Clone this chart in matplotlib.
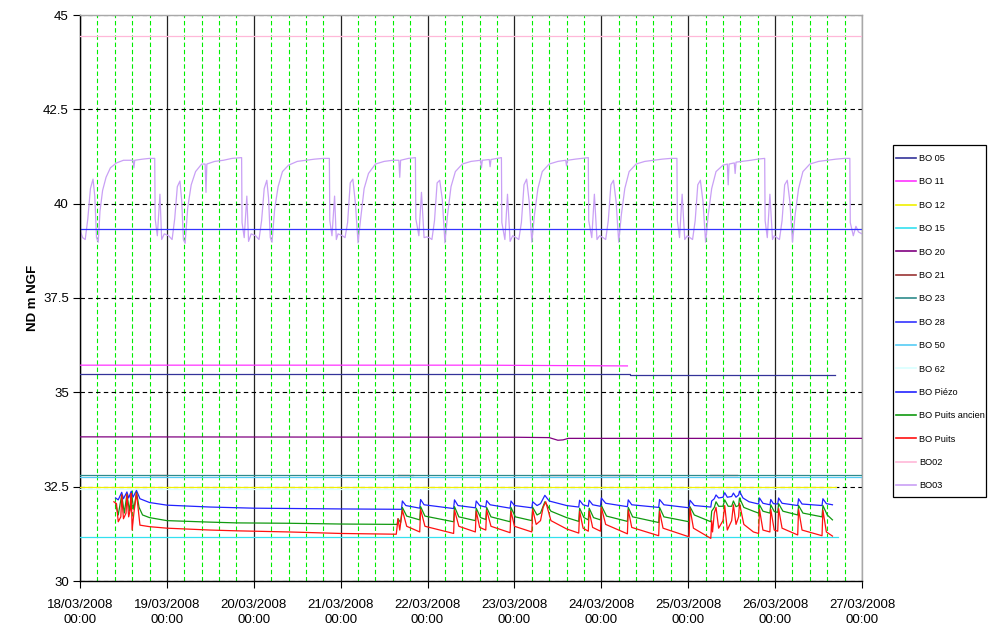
import matplotlib
matplotlib.use("Agg")
import matplotlib.pyplot as plt
from matplotlib.ticker import FixedLocator, MultipleLocator
from matplotlib.patches import Rectangle
import numpy as np

plt.rcParams['font.family'] = ['Liberation Sans', 'DejaVu Sans']

# ---------------- DATA (x = days since 18/03/2008 00:00) ----------------
x_tick_labels = ["18/03/2008\n00:00", "19/03/2008\n00:00", "20/03/2008\n00:00",
                 "21/03/2008\n00:00", "22/03/2008\n00:00", "23/03/2008\n00:00",
                 "24/03/2008\n00:00", "25/03/2008\n00:00", "26/03/2008\n00:00",
                 "27/03/2008\n00:00"]
y_ticks = [30, 32.5, 35, 37.5, 40, 42.5, 45]
y_tick_labels = ["30", "32.5", "35", "37.5", "40", "42.5", "45"]

bo05_t = [0.0, 6.33, 6.33, 8.69]
bo05_v = [35.48, 35.48, 35.45, 35.45]
bo11_t = [0.0, 4.6, 6.30]
bo11_v = [35.72, 35.72, 35.70]
bo12_t = [0.0, 8.70]
bo12_v = [32.49, 32.49]
bo15_t = [0.0, 8.72]
bo15_v = [31.16, 31.16]
bo20_t = [0.0, 5.0, 5.40, 5.50, 5.56, 5.62, 9.0]
bo20_v = [33.82, 33.81, 33.80, 33.73, 33.74, 33.78, 33.78]
bo21_t = [0.80, 1.00, np.nan, 3.66, 3.83, np.nan, 5.30, 5.80, np.nan, 6.00, 6.37, np.nan, 7.25, 7.56]
bo21_v = [32.82, 32.82, np.nan, 32.82, 32.82, np.nan, 32.82, 32.82, np.nan, 32.82, 32.82, np.nan, 32.82, 32.82]
bo23_t = [0.0, 9.0]
bo23_v = [32.81, 32.81]
bo28_t = [0.0, 9.0]
bo28_v = [39.33, 39.33]
bo50_t = [0.0, 9.0]
bo50_v = [32.75, 32.75]
bo62_t = [0.0, 8.70]
bo62_v = [32.44, 32.44]
bo02_t = [0.0, 9.0]
bo02_v = [44.45, 44.45]

piezo_t = [0.41, 0.44, 0.48, 0.50, 0.54, 0.56, 0.59, 0.61, 0.65, 0.69, 0.80, 1.0, 1.5, 2.0, 2.5, 3.0,
           3.70, 3.71, 3.75, 3.91, 3.92, 3.96, 4.30, 4.31, 4.35, 4.55, 4.56, 4.60, 4.67, 4.68, 4.72,
           4.95, 4.96, 5.00, 5.20, 5.21, 5.26, 5.30, 5.35, 5.40, 5.60, 5.74, 5.75, 5.79, 5.85, 5.86,
           5.90, 5.99, 6.00, 6.05, 6.30, 6.31, 6.35, 6.66, 6.67, 6.72, 7.01, 7.02, 7.07, 7.26, 7.27,
           7.30, 7.32, 7.35, 7.40, 7.42, 7.45, 7.50, 7.52, 7.55, 7.58, 7.59, 7.63, 7.70, 7.81, 7.82,
           7.86, 7.94, 7.95, 7.98, 8.03, 8.04, 8.08, 8.26, 8.27, 8.31, 8.54, 8.55, 8.59, 8.66]
piezo_v = [32.20, 32.15, 32.35, 32.18, 32.36, 32.20, 32.38, 32.22, 32.40, 32.18, 32.08, 32.01, 31.96, 31.93, 31.92, 31.91,
           31.90, 32.12, 32.00, 31.93, 32.16, 32.02, 31.92, 32.15, 32.00, 31.94, 32.12, 32.00, 31.96, 32.13, 32.02,
           31.93, 32.12, 32.00, 31.94, 32.10, 32.00, 32.05, 32.27, 32.12, 32.00, 31.96, 32.14, 32.02, 31.98, 32.14,
           32.02, 31.98, 32.20, 32.06, 31.97, 32.15, 32.02, 31.95, 32.16, 32.02, 31.94, 32.14, 32.00, 31.96, 32.12,
           32.18, 32.28, 32.20, 32.22, 32.34, 32.22, 32.24, 32.33, 32.22, 32.28, 32.38, 32.20, 32.10, 32.04, 32.20,
           32.06, 32.02, 32.16, 32.05, 32.04, 32.20, 32.06, 32.00, 32.18, 32.04, 32.00, 32.18, 32.05, 32.02]

ancien_t = [0.41, 0.44, 0.48, 0.51, 0.54, 0.57, 0.59, 0.62, 0.65, 0.68, 0.72, 0.80, 1.0, 1.5, 1.8, 2.4, 3.0,
            3.65, 3.66, 3.69, 3.71, 3.76, 3.91, 3.92, 3.97, 4.30, 4.31, 4.36, 4.55, 4.56, 4.61, 4.67, 4.68,
            4.73, 4.95, 4.96, 5.01, 5.20, 5.21, 5.26, 5.30, 5.35, 5.42, 5.60, 5.74, 5.75, 5.80, 5.85, 5.86,
            5.91, 5.99, 6.00, 6.06, 6.30, 6.31, 6.36, 6.66, 6.67, 6.72, 7.01, 7.02, 7.07, 7.26, 7.27, 7.30,
            7.32, 7.35, 7.40, 7.42, 7.46, 7.50, 7.52, 7.55, 7.58, 7.59, 7.64, 7.75, 7.81, 7.82, 7.86, 7.94,
            7.95, 7.99, 8.03, 8.04, 8.09, 8.26, 8.27, 8.32, 8.54, 8.55, 8.60, 8.66]
ancien_v = [32.05, 31.75, 32.28, 31.80, 32.30, 31.85, 32.32, 31.90, 32.35, 31.95, 31.75, 31.68, 31.60, 31.56, 31.54, 31.53, 31.51,
            31.50, 31.65, 31.55, 31.95, 31.72, 31.62, 31.97, 31.72, 31.57, 31.97, 31.70, 31.60, 31.93, 31.68, 31.63, 31.95,
            31.70, 31.57, 31.95, 31.70, 31.60, 31.95, 31.75, 31.80, 32.10, 31.85, 31.68, 31.58, 31.93, 31.68, 31.62, 31.93,
            31.68, 31.62, 32.00, 31.72, 31.58, 31.95, 31.70, 31.55, 31.95, 31.70, 31.57, 31.97, 31.75, 31.57, 31.85, 31.95,
            32.10, 31.98, 31.98, 32.15, 31.98, 31.98, 32.12, 31.97, 32.00, 32.20, 31.95, 31.85, 31.80, 32.02, 31.85, 31.80,
            32.02, 31.84, 31.82, 32.05, 31.85, 31.75, 32.00, 31.80, 31.70, 32.00, 31.75, 31.62]

puits_t = [0.39, 0.42, 0.44, 0.47, 0.48, 0.50, 0.53, 0.54, 0.56, 0.58, 0.59, 0.60, 0.62, 0.65, 0.69, 0.80, 1.0,
           1.5, 1.8, 2.4, 3.0, 3.64, 3.66, 3.68, 3.71, 3.76, 3.91, 3.92, 3.97, 4.30, 4.31, 4.36, 4.55, 4.56,
           4.60, 4.67, 4.68, 4.73, 4.95, 4.96, 5.00, 5.20, 5.21, 5.25, 5.30, 5.33, 5.36, 5.42, 5.60, 5.74,
           5.75, 5.79, 5.85, 5.86, 5.90, 5.99, 6.00, 6.05, 6.30, 6.31, 6.35, 6.66, 6.67, 6.71, 7.01, 7.02,
           7.06, 7.26, 7.27, 7.28, 7.30, 7.32, 7.35, 7.40, 7.42, 7.45, 7.50, 7.52, 7.55, 7.58, 7.59, 7.64,
           7.75, 7.81, 7.82, 7.86, 7.94, 7.95, 7.99, 8.03, 8.04, 8.08, 8.26, 8.27, 8.31, 8.54, 8.55, 8.59, 8.66]
puits_v = [32.10, 32.05, 31.57, 31.70, 32.28, 31.65, 31.80, 32.30, 31.70, 31.90, 32.32, 31.35, 31.80, 32.33, 31.48, 31.44, 31.40,
           31.35, 31.33, 31.30, 31.26, 31.24, 31.65, 31.35, 31.88, 31.45, 31.30, 31.90, 31.45, 31.26, 31.88, 31.45, 31.30, 31.85,
           31.42, 31.35, 31.88, 31.45, 31.28, 31.85, 31.45, 31.30, 31.90, 31.50, 31.60, 31.95, 32.10, 31.60, 31.38, 31.27,
           31.85, 31.40, 31.32, 31.85, 31.42, 31.32, 31.95, 31.50, 31.25, 31.88, 31.42, 31.20, 31.85, 31.40, 31.17, 31.93,
           31.40, 31.13, 31.60, 31.30, 31.80, 31.95, 31.40, 31.60, 32.00, 31.35, 31.60, 32.02, 31.50, 31.70, 32.06, 31.50,
           31.30, 31.26, 31.90, 31.35, 31.30, 31.90, 31.35, 31.32, 31.92, 31.40, 31.22, 31.90, 31.35, 31.20, 31.88, 31.30, 31.19]

bo03_t = [0.00, 0.03, 0.06, 0.09, 0.12, 0.15, 0.17, 0.19, 0.21, 0.23, 0.26, 0.30, 0.35, 0.42, 0.50, 0.61, 0.62, 0.63, 0.72, 0.80, 0.86, 0.865, 0.89, 0.92, 0.94, 0.97,
          1.02, 1.06, 1.09, 1.12, 1.15, 1.17, 1.19, 1.21, 1.24, 1.28, 1.33, 1.40, 1.44, 1.45, 1.46, 1.55, 1.65, 1.75, 1.86, 1.865, 1.89, 1.92, 1.94, 1.97,
          2.02, 2.06, 2.09, 2.12, 2.15, 2.17, 2.19, 2.21, 2.24, 2.28, 2.33, 2.40, 2.50, 2.60, 2.70, 2.80, 2.87, 2.875, 2.90, 2.93, 2.95, 2.97,
          3.02, 3.05, 3.08, 3.11, 3.14, 3.17, 3.20, 3.23, 3.27, 3.32, 3.40, 3.50, 3.60, 3.67, 3.68, 3.69, 3.78, 3.86, 3.865, 3.90, 3.93, 3.96, 3.99,
          4.02, 4.05, 4.08, 4.11, 4.14, 4.17, 4.20, 4.23, 4.27, 4.32, 4.40, 4.50, 4.61, 4.62, 4.63, 4.71, 4.72, 4.73, 4.80, 4.85, 4.855, 4.89, 4.92, 4.95, 4.98,
          5.02, 5.05, 5.08, 5.11, 5.14, 5.17, 5.20, 5.23, 5.27, 5.32, 5.40, 5.50, 5.59, 5.60, 5.61, 5.70, 5.78, 5.85, 5.855, 5.89, 5.92, 5.95, 5.98,
          6.02, 6.05, 6.08, 6.11, 6.14, 6.17, 6.20, 6.23, 6.27, 6.32, 6.40, 6.50, 6.60, 6.70, 6.80, 6.87, 6.875, 6.90, 6.93, 6.96, 6.99,
          7.02, 7.05, 7.08, 7.11, 7.14, 7.17, 7.20, 7.23, 7.27, 7.32, 7.40, 7.45, 7.46, 7.47, 7.53, 7.54, 7.55, 7.62, 7.72, 7.80, 7.88, 7.885, 7.91, 7.94, 7.97, 7.99,
          8.02, 8.05, 8.08, 8.11, 8.14, 8.17, 8.20, 8.23, 8.27, 8.32, 8.40, 8.50, 8.60, 8.70, 8.80, 8.86, 8.865, 8.90, 8.93, 8.96, 9.00]
bo03_v = [39.30, 39.10, 39.05, 39.60, 40.40, 40.65, 40.20, 39.10, 38.98, 39.80, 40.35, 40.70, 40.95, 41.08, 41.15, 41.15, 40.95, 41.15, 41.18, 41.20, 41.20, 39.60, 39.15, 40.25, 39.05, 39.20,
          39.15, 39.05, 39.60, 40.45, 40.60, 40.10, 39.05, 38.95, 39.90, 40.50, 40.85, 41.05, 41.05, 40.30, 41.05, 41.12, 41.15, 41.20, 41.22, 39.50, 39.10, 40.20, 39.00, 39.20,
          39.15, 39.05, 39.55, 40.40, 40.62, 40.15, 39.10, 38.98, 39.85, 40.45, 40.85, 41.02, 41.12, 41.15, 41.18, 41.20, 41.20, 39.55, 39.15, 40.20, 39.05, 39.20,
          39.15, 39.10, 39.50, 40.55, 40.65, 40.00, 38.96, 39.60, 40.40, 40.80, 41.05, 41.12, 41.15, 41.15, 40.70, 41.15, 41.20, 41.22, 39.60, 39.15, 40.30, 39.10, 39.12,
          39.10, 39.05, 39.55, 40.55, 40.62, 40.10, 38.96, 39.70, 40.45, 40.85, 41.05, 41.12, 41.15, 40.95, 41.15, 41.17, 40.98, 41.17, 41.20, 41.22, 39.50, 39.05, 40.25, 39.00, 39.15,
          39.10, 39.05, 39.50, 40.50, 40.65, 40.05, 38.98, 39.70, 40.40, 40.85, 41.05, 41.12, 41.15, 41.00, 41.15, 41.18, 41.20, 41.22, 39.55, 39.10, 40.25, 39.05, 39.15,
          39.10, 39.05, 39.55, 40.50, 40.62, 40.05, 38.98, 39.70, 40.40, 40.85, 41.05, 41.12, 41.15, 41.18, 41.20, 41.20, 39.55, 39.10, 40.25, 39.05, 39.15,
          39.10, 39.05, 39.55, 40.50, 40.62, 40.05, 38.98, 39.70, 40.40, 40.85, 41.02, 41.05, 40.50, 41.05, 41.08, 40.80, 41.10, 41.12, 41.15, 41.18, 41.20, 39.55, 39.10, 40.25, 39.05, 39.15,
          39.10, 39.05, 39.55, 40.50, 40.62, 40.05, 38.98, 39.70, 40.40, 40.85, 41.05, 41.12, 41.15, 41.18, 41.20, 41.20, 39.50, 39.15, 39.40, 39.25, 39.20]

series = [
    ("BO 05", bo05_t, bo05_v, "#333399"),
    ("BO 11", bo11_t, bo11_v, "#FF33FF"),
    ("BO 12", bo12_t, bo12_v, "#F0F000"),
    ("BO 15", bo15_t, bo15_v, "#33E0F0"),
    ("BO 20", bo20_t, bo20_v, "#800080"),
    ("BO 21", bo21_t, bo21_v, "#993333"),
    ("BO 23", bo23_t, bo23_v, "#2E8B8B"),
    ("BO 28", bo28_t, bo28_v, "#3333FF"),
    ("BO 50", bo50_t, bo50_v, "#55CCF5"),
    ("BO 62", bo62_t, bo62_v, "#D8FFFF"),
    ("BO Piézo", piezo_t, piezo_v, "#2222FF"),
    ("BO Puits ancien", ancien_t, ancien_v, "#119911"),
    ("BO Puits", puits_t, puits_v, "#FF1111"),
    ("BO02", bo02_t, bo02_v, "#FFB8D8"),
    ("BO03", bo03_t, bo03_v, "#C9A0F5"),
]
zorders = {"BO03": 2.0, "BO 28": 2.5}

# ---------------- FIGURE ----------------
W, H = 993, 628
fig = plt.figure(figsize=(W/100, H/100), dpi=100)
ax = fig.add_axes([80/W, 1-581/H, (862-80)/W, (581-15)/H])

handles = []
for name, t, v, c in series:
    ln, = ax.plot(t, v, color=c, lw=0.9, label=name, zorder=zorders.get(name, 3))
    handles.append(ln)

ax.set_xlim(0, 9)
ax.set_ylim(30, 45)
ax.xaxis.set_major_locator(FixedLocator(list(range(len(x_tick_labels)))))
ax.set_xticklabels(x_tick_labels, fontsize=9.5, linespacing=1.35)
ax.xaxis.set_minor_locator(MultipleLocator(0.2))
ax.yaxis.set_major_locator(FixedLocator(y_ticks))
ax.set_yticklabels(y_tick_labels, fontsize=9.5)

ax.tick_params(axis='both', which='major', direction='out', length=5, width=0.8, color='black')
ax.tick_params(axis='x', which='major', pad=8)
ax.tick_params(axis='y', which='major', pad=3)
ax.tick_params(axis='x', which='minor', length=0)

ax.grid(True, axis='x', which='major', color='#222222', lw=0.9, ls='-', zorder=0)
ax.grid(True, axis='x', which='minor', color='#00EE00', lw=0.8, ls=(0, (4, 2.5)), zorder=0)
ax.grid(True, axis='y', which='major', color='black', lw=0.8, ls=(0, (4, 3)), zorder=0)
ax.set_axisbelow(True)

for s in ['left', 'bottom']:
    ax.spines[s].set_color('black')
    ax.spines[s].set_linewidth(1.0)
for s in ['top', 'right']:
    ax.spines[s].set_color('#A8A8A8')
    ax.spines[s].set_linewidth(1.0)

ax.set_ylabel("ND m NGF", fontsize=9.5, fontweight='bold', labelpad=3)

# legend box frame (drawn separately for exact placement)
fig.patches.append(Rectangle((893/W, 1-497/H), (986-893)/W, (497-145)/H,
                             transform=fig.transFigure, facecolor='white',
                             edgecolor='black', lw=0.9, zorder=4))
leg = fig.legend(handles=handles, loc='upper left', bbox_to_anchor=(896/W, 1-154/H),
                 fontsize=6.6, frameon=False,
                 labelspacing=1.57, handlelength=2.2, handletextpad=0.3,
                 borderpad=0.0, borderaxespad=0.0)
leg.set_zorder(5)
for lh in leg.get_lines():
    lh.set_linewidth(1.2)

fig.savefig("out.png", dpi=100)
